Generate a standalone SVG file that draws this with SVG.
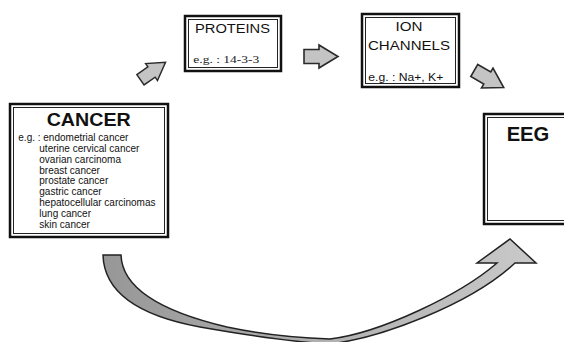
<svg xmlns="http://www.w3.org/2000/svg" width="564" height="342" viewBox="0 0 564 342">
<style>
.outer{fill:#fff;stroke:#111;stroke-width:2.5}
.inner{fill:none;stroke:#222;stroke-width:1}
.sans{font-family:"Liberation Sans",Arial,sans-serif;fill:#111}
.serif{font-family:"Liberation Serif","Times New Roman",serif;fill:#222}
.title{font-weight:bold}
.item{font-size:10px}
.blk{fill:#c4c4c4;stroke:#2a2a2a;stroke-width:1.6;stroke-linejoin:miter}
</style>
<defs>
<linearGradient id="curveGrad" x1="0" y1="0" x2="1" y2="0">
<stop offset="0" stop-color="#979797"/>
<stop offset="1" stop-color="#c9c9c9"/>
</linearGradient>
<path id="blkArrow" d="M -17,-7 L -2,-7 L -2,-11.5 L 17,0 L -2,11.5 L -2,7 L -17,7 Z"/>
</defs>

<g id="connectors">
<use href="#blkArrow" class="blk" transform="translate(153,71) rotate(-35) scale(0.9)"/>
<use href="#blkArrow" class="blk" transform="translate(321,56.5)"/>
<use href="#blkArrow" class="blk" transform="translate(489,79) rotate(30)"/>
<path id="curve" fill="url(#curveGrad)" stroke="#222" stroke-width="1.5" stroke-linejoin="miter"
d="M 103,255 L 121,255 C 122,285 155,310 227,327 C 260,334 300,338 330,339 C 380,333 460,295 497,263 L 477,263 L 510,239 L 536,263 L 515,263 C 470,305 380,338 330,344 C 290,342 240,334 200,327 C 135,315 104,290 103,255 Z"/>
</g>

<g id="cancer">
<rect class="outer" x="10" y="104" width="158" height="133"/>
<rect class="inner" x="13.5" y="107.5" width="151" height="126"/>
<text class="sans title" x="88.7" y="126" font-size="17.5" text-anchor="middle" textLength="84" lengthAdjust="spacingAndGlyphs">CANCER</text>
<text class="sans item" x="18.3" y="141">e.g. : endometrial cancer</text>
<text class="sans item" x="39.3" y="151.9">uterine cervical  cancer</text>
<text class="sans item" x="39.3" y="162.7">ovarian carcinoma</text>
<text class="sans item" x="39.3" y="173.6">breast cancer</text>
<text class="sans item" x="39.3" y="184.4">prostate cancer</text>
<text class="sans item" x="39.3" y="195.3">gastric cancer</text>
<text class="sans item" x="39.3" y="206.1">hepatocellular carcinomas</text>
<text class="sans item" x="39.3" y="217">lung cancer</text>
<text class="sans item" x="39.3" y="227.8">skin cancer</text>
</g>

<g id="proteins">
<rect class="outer" x="185" y="16" width="96" height="55"/>
<rect class="inner" x="188.5" y="19.5" width="89" height="48"/>
<text class="sans" x="232.5" y="33" font-size="12.5" text-anchor="middle" textLength="75" lengthAdjust="spacingAndGlyphs" fill="#333">PROTEINS</text>
<text class="serif" x="193.3" y="63.3" font-size="11" textLength="66" lengthAdjust="spacingAndGlyphs">e.g. : 14-3-3</text>
</g>

<g id="ion-channels">
<rect class="outer" x="362" y="14" width="97" height="73"/>
<rect class="inner" x="365.5" y="17.5" width="90" height="66"/>
<text class="sans" x="409" y="31" font-size="13" text-anchor="middle" textLength="27" lengthAdjust="spacingAndGlyphs" fill="#333">ION</text>
<text class="sans" x="409" y="50" font-size="13" text-anchor="middle" textLength="82" lengthAdjust="spacingAndGlyphs" fill="#333">CHANNELS</text>
<text class="sans" x="368.3" y="81" font-size="10" textLength="75" lengthAdjust="spacingAndGlyphs" fill="#555">e.g. : Na+, K+</text>
</g>

<g id="eeg">
<rect class="outer" x="484" y="114" width="90" height="110"/>
<rect class="inner" x="487.5" y="117.5" width="90" height="103"/>
<text class="sans title" x="528" y="140.7" font-size="19.5" text-anchor="middle" textLength="42.7" lengthAdjust="spacingAndGlyphs">EEG</text>
</g>
</svg>
